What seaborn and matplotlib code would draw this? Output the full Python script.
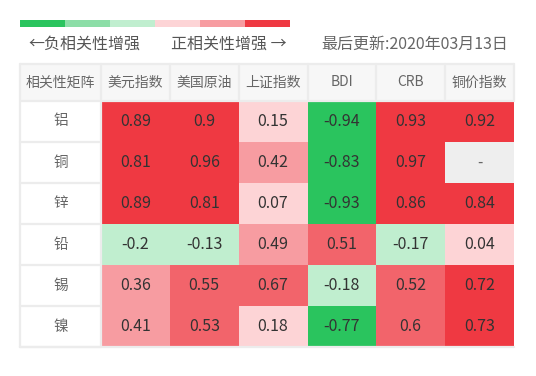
import numpy as np
import pandas as pd
import matplotlib
matplotlib.use("Agg")
import matplotlib.pyplot as plt
from matplotlib.colors import ListedColormap, BoundaryNorm
from matplotlib.patches import Rectangle
import seaborn as sns

sns.set_style("white")
plt.rcParams['font.family'] = ['Noto Sans CJK SC', 'DejaVu Sans']
plt.rcParams['font.weight'] = 'light'

# 数据
metals = ["铝", "铜", "锌", "铅", "锡", "镍"]
indices = ["美元指数", "美国原油", "上证指数", "BDI", "CRB", "铜价指数"]
corr_al = [0.89, 0.9, 0.15, -0.94, 0.93, 0.92]
corr_cu = [0.81, 0.96, 0.42, -0.83, 0.97, np.nan]
corr_zn = [0.89, 0.81, 0.07, -0.93, 0.86, 0.84]
corr_pb = [-0.2, -0.13, 0.49, 0.51, -0.17, 0.04]
corr_sn = [0.36, 0.55, 0.67, -0.18, 0.52, 0.72]
corr_ni = [0.41, 0.53, 0.18, -0.77, 0.6, 0.73]
corner_label = "相关性矩阵"
update_text = "最后更新:2020年03月13日"

bounds = [-1, -0.7, -0.3, 0, 0.3, 0.5, 0.7, 1]
bin_colors = ["#2ac45e", "#8cdea7", "#c0eecf", "#fdd4d6", "#f79ca1", "#f2646b", "#ef3942"]
legend_colors = ["#2ac45e", "#8cdea7", "#c0eecf", "#fdd4d6", "#f79ca1", "#ef3942"]

df = pd.DataFrame([corr_al, corr_cu, corr_zn, corr_pb, corr_sn, corr_ni],
                  index=metals, columns=indices)
labels = df.map(lambda v: "" if pd.isna(v) else f"{v:g}")

W, H = 536, 376
fig = plt.figure(figsize=(W / 100, H / 100), dpi=100)

# 主体热力图
x0, x1, y0, y1 = 101, 514, 101, 347
ax = fig.add_axes([x0 / W, 1 - y1 / H, (x1 - x0) / W, (y1 - y0) / H])
ax.set_facecolor("#eeeeee")
cmap = ListedColormap(bin_colors)
norm = BoundaryNorm(bounds, cmap.N)
sns.heatmap(df, ax=ax, cmap=cmap, norm=norm, cbar=False, annot=labels, fmt="",
            annot_kws={"fontsize": 11.5, "color": "#333333", "fontweight": "light"},
            linewidths=0)
ax.set_xticks([])
ax.set_yticks([])
ax.set_xlabel("")
ax.set_ylabel("")
for s in ax.spines.values():
    s.set_visible(False)

# 缺失值
for i, m in enumerate(metals):
    for j, c in enumerate(indices):
        if pd.isna(df.loc[m, c]):
            ax.text(j + 0.5, i + 0.5, "-", ha="center", va="center",
                    fontsize=11, color="#666666")

# 表头与行标签（像素换算为数据坐标）
ux = (x1 - x0) / len(indices)
uy = (y1 - y0) / len(metals)
hx = (20 - x0) / ux
hy = (64 - y0) / uy
line_c = "#ececec"

ax.add_patch(Rectangle((hx, hy), len(indices) - hx, -hy, facecolor="#f7f7f7",
                       edgecolor="none", clip_on=False, zorder=0))
ax.add_patch(Rectangle((hx, 0), -hx, len(metals), facecolor="white",
                       edgecolor="none", clip_on=False, zorder=0))
ax.text(hx / 2, hy / 2, corner_label, ha="center", va="center",
        fontsize=10, color="#666666", clip_on=False)
for j, c in enumerate(indices):
    ax.text(j + 0.5, hy / 2, c, ha="center", va="center",
            fontsize=10, color="#666666", clip_on=False)
for i, m in enumerate(metals):
    ax.text(hx / 2, i + 0.5, m, ha="center", va="center",
            fontsize=10.5, color="#666666", clip_on=False)

# 边框线
lw = 1.6
ax.plot([hx, len(indices)], [hy, hy], color=line_c, lw=lw, clip_on=False)
ax.plot([hx, len(indices)], [0, 0], color=line_c, lw=lw, clip_on=False)
ax.plot([hx, hx], [hy, len(metals)], color=line_c, lw=lw, clip_on=False)
ax.plot([len(indices), len(indices)], [hy, 0], color=line_c, lw=lw, clip_on=False)
for j in range(len(indices)):
    ax.plot([j, j], [hy, 0], color=line_c, lw=lw, clip_on=False)
ax.plot([0, 0], [0, len(metals)], color=line_c, lw=lw, clip_on=False)
for i in range(1, len(metals) + 1):
    ax.plot([hx, 0], [i, i], color=line_c, lw=lw, clip_on=False)
ax.plot([hx, len(indices)], [len(metals), len(metals)], color=line_c, lw=lw, clip_on=False)

# 顶部图例色条
lax = fig.add_axes([20 / W, 1 - 26.5 / H, 270 / W, 6.5 / H])
sns.heatmap([list(range(len(legend_colors)))], ax=lax, cmap=ListedColormap(legend_colors),
            cbar=False, linewidths=0)
lax.set_xticks([])
lax.set_yticks([])
lax.axis("off")

fig.text(28 / W, 1 - 44 / H, "←负相关性增强", ha="left", va="center",
         fontsize=11.5, color="#555555")
fig.text(287 / W, 1 - 44 / H, "正相关性增强 →", ha="right", va="center",
         fontsize=11.5, color="#555555")
fig.text(508 / W, 1 - 44 / H, update_text, ha="right", va="center",
         fontsize=11.5, color="#666666")

fig.savefig("out.png", dpi=100, facecolor="white")
